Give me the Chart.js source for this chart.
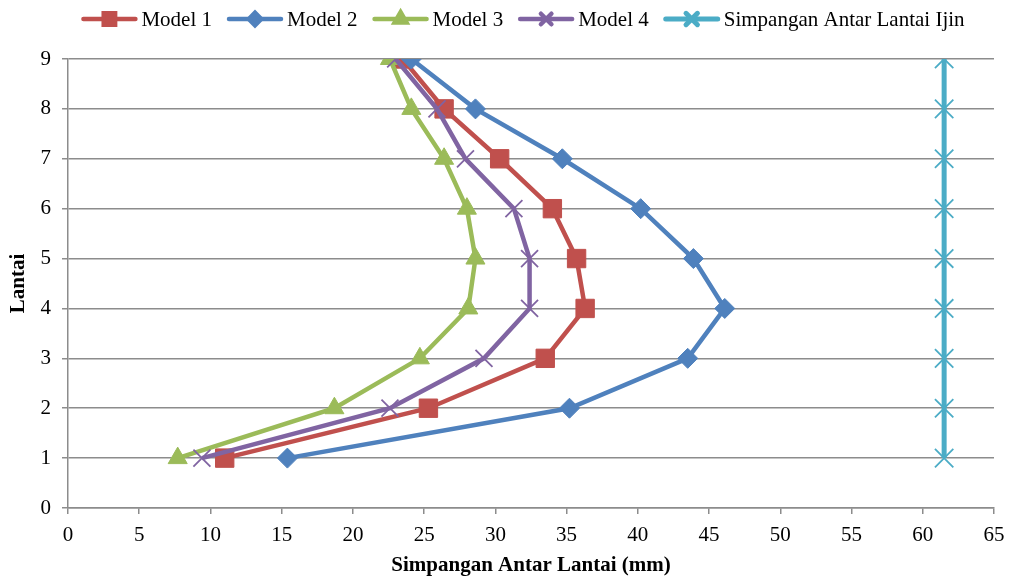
<!DOCTYPE html>
<html><head><meta charset="utf-8">
<script src="https://cdn.jsdelivr.net/npm/chart.js@4"></script>
<style>html,body{margin:0;padding:0;background:#fff}#wrap{width:1010px;height:579px}</style>
</head><body><div id="wrap"><canvas id="c" width="1010" height="579"></canvas></div>
<script>
const floors = [1, 2, 3, 4, 5, 6, 7, 8, 9];
const model1 = [11.0, 25.3, 33.5, 36.3, 35.7, 34.0, 30.3, 26.4, 23.5];
const model2 = [15.4, 35.2, 43.5, 46.1, 43.9, 40.2, 34.7, 28.6, 24.1];
const model3 = [7.7, 18.7, 24.7, 28.1, 28.6, 28.0, 26.4, 24.1, 22.6];
const model4 = [9.4, 22.6, 29.2, 32.4, 32.4, 31.3, 27.9, 25.9, 23.0];
const ijin = [61.5, 61.5, 61.5, 61.5, 61.5, 61.5, 61.5, 61.5, 61.5];
const seriesNames = ['Model 1', 'Model 2', 'Model 3', 'Model 4', 'Simpangan Antar Lantai Ijin'];
const xTitle = 'Simpangan Antar Lantai (mm)';
const yTitle = 'Lantai';

const FONT = '"Liberation Serif", "Times New Roman", serif';
const FS = 21;
const styles = [
  {color: '#C0504D', point: 'rect', r: 13, bw: 1, lw: 4.5, order: 5},
  {color: '#4F81BD', point: 'rectRot', r: 10, bw: 1, lw: 4.5, order: 4},
  {color: '#9BBB59', point: 'triangle', r: 11, bw: 1, lw: 4.5, order: 3},
  {color: '#8064A2', point: 'crossRot', r: 12, bw: 1.8, lw: 4.5, order: 2},
  {color: '#4BACC6', point: 'crossRot', r: 13, bw: 1.8, lw: 5, order: 1}
];
const seriesData = [model1, model2, model3, model4, ijin];

const datasets = seriesData.map((vals, i) => ({
  label: seriesNames[i],
  data: vals.map((v, k) => ({x: v, y: floors[k]})),
  showLine: true,
  borderColor: styles[i].color,
  backgroundColor: styles[i].color,
  borderWidth: styles[i].lw,
  pointStyle: styles[i].point,
  pointRadius: styles[i].r,
  pointHoverRadius: styles[i].r,
  pointBorderWidth: styles[i].bw,
  pointBorderColor: styles[i].color,
  pointBackgroundColor: styles[i].color,
  order: styles[i].order,
  tension: 0
}));

const legendPlugin = {
  id: 'customLegend',
  afterDraw(chart) {
    const ctx = chart.ctx;
    ctx.save();
    ctx.font = FS + 'px ' + FONT;
    const lineW = 56, gapT = 4, gapI = 15;
    const items = chart.data.datasets.map((ds, i) => ({ds, i, tw: ctx.measureText(ds.label).width}));
    const total = items.reduce((s, it) => s + lineW + gapT + it.tw, 0) + gapI * (items.length - 1);
    let x = (chart.chartArea.left + chart.chartArea.right) / 2 - total / 2 - 8;
    const y = 19;
    items.forEach(it => {
      const st = styles[it.i];
      ctx.strokeStyle = st.color;
      ctx.lineWidth = st.lw;
      ctx.lineCap = 'round';
      ctx.beginPath();
      ctx.moveTo(x + 2, y);
      ctx.lineTo(x + lineW - 2, y);
      ctx.stroke();
      ctx.fillStyle = st.color;
      Chart.helpers.drawPoint(ctx, {pointStyle: st.point, radius: st.r * 0.62, borderWidth: st.bw}, x + lineW / 2, y);
      ctx.fillStyle = '#000';
      ctx.textBaseline = 'middle';
      ctx.textAlign = 'left';
      ctx.fillText(it.ds.label, x + lineW + gapT, y + 1);
      x += lineW + gapT + it.tw + gapI;
    });
    ctx.restore();
  }
};

new Chart(document.getElementById('c'), {
  type: 'scatter',
  data: {datasets},
  plugins: [legendPlugin],
  options: {
    responsive: false,
    animation: false,
    devicePixelRatio: 1,
    layout: {padding: {top: 59, right: 16, left: 0, bottom: 0}},
    plugins: {legend: {display: false}, tooltip: {enabled: false}},
    scales: {
      x: {
        type: 'linear', min: 0, max: 65,
        afterFit(s) { s.height = 71; s.paddingRight = 0; s.paddingLeft = 0; },
        ticks: {stepSize: 5, color: '#000', font: {family: FONT, size: FS}, padding: 9, maxRotation: 0},
        grid: {display: true, drawOnChartArea: false, drawTicks: true, tickLength: 6, color: '#8c8c8c', lineWidth: 1.5},
        border: {display: true, color: '#8c8c8c', width: 1.5},
        title: {display: true, text: xTitle, color: '#000', font: {family: FONT, size: FS, weight: 'bold'}, padding: {top: 2, bottom: 1}}
      },
      y: {
        type: 'linear', min: 0, max: 9,
        afterFit(s) { s.width = 68; },
        ticks: {stepSize: 1, color: '#000', font: {family: FONT, size: FS}, padding: 11},
        grid: {display: true, drawOnChartArea: true, drawTicks: true, tickLength: 6, color: '#8c8c8c', lineWidth: 1.5},
        border: {display: true, color: '#8c8c8c', width: 1.5},
        title: {display: true, text: yTitle, color: '#000', font: {family: FONT, size: FS, weight: 'bold'}, padding: {top: 6, bottom: 2}}
      }
    }
  }
});
</script>
</body></html>
